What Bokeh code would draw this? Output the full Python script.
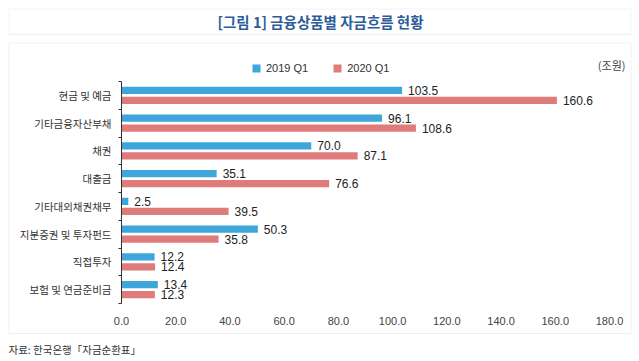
from bokeh.plotting import figure
from bokeh.models import (ColumnDataSource, Range1d, FixedTicker, BoxAnnotation, Label,
                          Legend, LegendItem, NumeralTickFormatter, LinearAxis)
from bokeh.transform import dodge
from bokeh.core.properties import value
from bokeh.embed import file_html
from bokeh.resources import INLINE

# ---- data ----
categories = ["현금 및 예금", "기타금융자산부채", "채권", "대출금",
              "기타대외채권채무", "지분증권 및 투자펀드", "직접투자", "보험 및 연금준비금"]
q2019 = [103.5, 96.1, 70.0, 35.1, 2.5, 50.3, 12.2, 13.4]
q2020 = [160.6, 108.6, 87.1, 76.6, 39.5, 35.8, 12.4, 12.3]
series_names = ["2019 Q1", "2020 Q1"]
x_ticks = [0, 20, 40, 60, 80, 100, 120, 140, 160, 180]
title_text = "[그림 1] 금융상품별 자금흐름 현황"
unit_text = "(조원)"
source_text = "자료: 한국은행「자금순환표」"

BLUE = "#3fa6db"
RED = "#e07b7b"
KR = "Noto Sans CJK KR"
NUM = "Liberation Sans"

# ---- layout constants (page pixels) ----
W, H = 635, 358          # figure size
PAGE0 = 0                # observed page offset of the figure
AX_LEFT, AX_RIGHT = 121, 609     # page x of value 0 and value 180
AX_TOP, AX_BOT = 81, 303         # page y of category block top/bottom
n = len(categories)
kx = (AX_RIGHT - AX_LEFT) / (x_ticks[-1] - x_ticks[0])
ky = (AX_BOT - AX_TOP) / n

def X(px):
    return x_ticks[0] + (px - AX_LEFT) / kx

def Y(py):
    return 0.5 + (py - AX_TOP) / ky

p = figure(width=W, height=H, output_backend="svg", toolbar_location=None,
           x_range=Range1d(X(PAGE0), X(PAGE0 + W)),
           y_range=Range1d(Y(PAGE0 + H), Y(PAGE0)),
           x_axis_location=None, y_axis_location=None,
           min_border=0, min_border_left=0, min_border_right=0,
           min_border_top=0, min_border_bottom=0)
p.outline_line_color = None
p.grid.visible = False
p.background_fill_color = "white"
p.border_fill_color = "white"

pos = list(range(1, n + 1))
src = ColumnDataSource(dict(
    pos=pos, a=q2019, b=q2020,
    a_lbl=[f"{v:.1f}" for v in q2019], b_lbl=[f"{v:.1f}" for v in q2020],
))

off = 0.18
h = 0.26
r1 = p.hbar(y=dodge("pos", -off, range=p.y_range), left=0, right="a", height=h,
            fill_color=BLUE, line_color=None, source=src)
r2 = p.hbar(y=dodge("pos", off, range=p.y_range), left=0, right="b", height=h,
            fill_color=RED, line_color=None, source=src)
for col, lbl, o in (("a", "a_lbl", -off), ("b", "b_lbl", off)):
    p.text(x=col, y=dodge("pos", o, range=p.y_range), text=lbl, source=src,
           x_offset=6, text_align="left", text_baseline="middle",
           text_font=value(NUM), text_font_size=value("12px"), text_color="#222222")

# x axis (drawn inside the frame, under the category block)
xa = LinearAxis(fixed_location=n + 0.5, bounds=(x_ticks[0], x_ticks[-1]),
                ticker=FixedTicker(ticks=x_ticks),
                formatter=NumeralTickFormatter(format="0.0"))
xa.axis_line_color = None
xa.major_tick_out = 0
xa.major_tick_in = 0
xa.minor_tick_out = 0
xa.minor_tick_in = 0
xa.major_label_standoff = 13
xa.major_label_text_font = NUM
xa.major_label_text_font_size = "11px"
xa.major_label_text_color = "#444444"
p.add_layout(xa, "below")

# y axis: labels at category centres, ticks at category boundaries
ya = LinearAxis(fixed_location=0, bounds=(0.5, n + 0.5),
                ticker=FixedTicker(ticks=pos, minor_ticks=[i + 0.5 for i in range(n + 1)]))
ya.major_label_overrides = {i: c for i, c in zip(pos, categories)}
ya.major_tick_out = 0
ya.major_tick_in = 0
ya.minor_tick_out = 3
ya.minor_tick_in = 0
ya.minor_tick_line_color = "#333333"
ya.axis_line_color = "#333333"
ya.major_label_standoff = 7
ya.major_label_text_font = KR
ya.major_label_text_font_size = "10.5px"
ya.major_label_text_color = "#333333"
p.add_layout(ya, "left")

# boxes
def box(l, t, r, b, color):
    return BoxAnnotation(left=X(l), right=X(r), top=Y(t), bottom=Y(b),
                         fill_color=None, fill_alpha=0, line_color=color, line_width=1)

p.add_layout(box(8.5, 8.5, 630.5, 34, "#c8d4e2"))
p.add_layout(box(8.5, 42.5, 630.5, 333, "#cccccc"))

# legend (inside the frame, pixel location from frame bottom-left)
legend = Legend(items=[LegendItem(label=series_names[0], renderers=[r1]),
                       LegendItem(label=series_names[1], renderers=[r2])],
                orientation="horizontal", location=(251 - PAGE0, PAGE0 + H - 74),
                glyph_width=10, glyph_height=10, label_standoff=5, spacing=24,
                padding=4, margin=0, border_line_color=None, background_fill_alpha=0,
                label_text_font=NUM, label_text_font_size="11px", label_text_color="#333333")
p.add_layout(legend, "center")

p.add_layout(Label(x=X(320), y=Y(21), text=title_text,
                   text_align="center", text_baseline="middle", text_font=KR,
                   text_font_size="14.5px", text_font_style="bold", text_color="#2e5c9a"))
p.add_layout(Label(x=X(625), y=Y(64), text=unit_text,
                   text_align="right", text_baseline="middle", text_font=KR,
                   text_font_size="11px", text_color="#444444"))
p.add_layout(Label(x=X(8), y=Y(349), text=source_text,
                   text_align="left", text_baseline="middle", text_font=KR,
                   text_font_size="10.5px", text_color="#333333"))

open("out.html", "w").write(file_html(p, INLINE))
